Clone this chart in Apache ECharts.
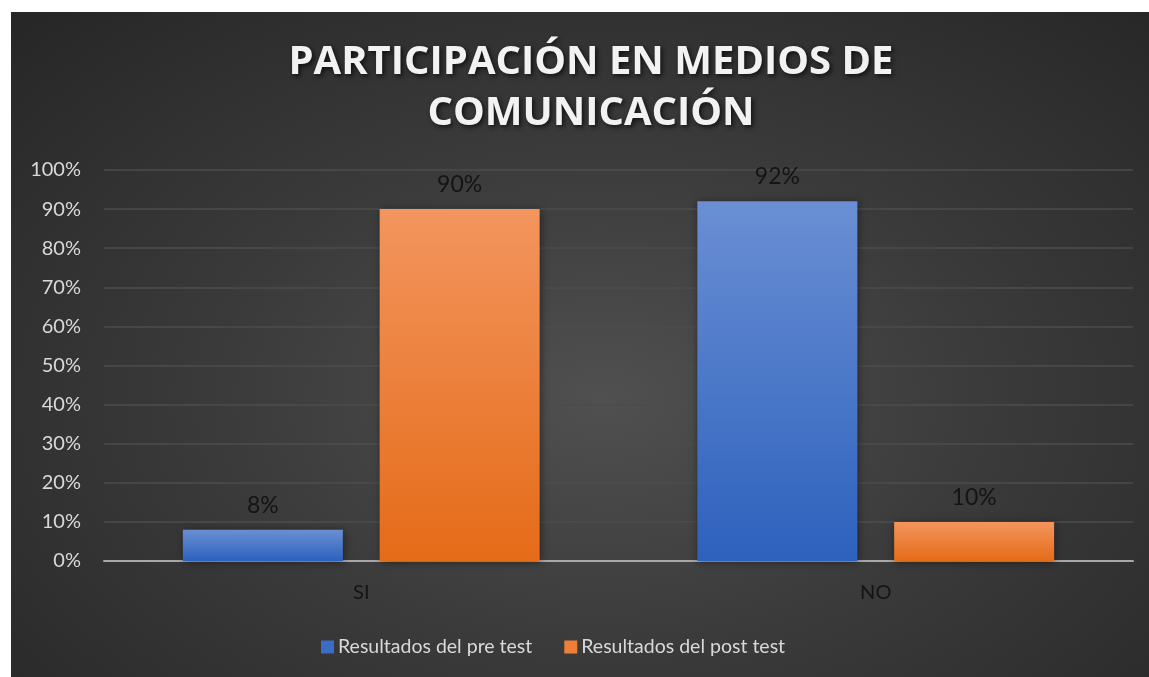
<!DOCTYPE html>
<html>
<head>
<meta charset="utf-8">
<script src="https://cdn.jsdelivr.net/npm/echarts@6/dist/echarts.min.js"></script>
<style>
html,body{margin:0;padding:0;background:#fff;width:1149px;height:677px;overflow:hidden;}
#main{position:absolute;left:11px;top:12px;width:1138px;height:665px;
background:radial-gradient(ellipse at 52% 58%, #505050 0%, #3b3b3b 45%, #262626 100%);}
</style>
</head>
<body>
<div id="main"></div>
<script>
var categorias = ['SI', 'NO'];
var preTest = [0.08, 0.92];
var postTest = [0.90, 0.10];
var nombres = ['Resultados del pre test', 'Resultados del post test'];
var titulo = 'PARTICIPACIÓN EN MEDIOS DE\nCOMUNICACIÓN';

var fuente = 'Lato, "Open Sans", sans-serif';

function degradado(arriba, abajo){
	return new echarts.graphic.LinearGradient(0, 0, 0, 1, [
		{offset: 0, color: arriba},
		{offset: 1, color: abajo}
	]);
}

var etiqueta = {
	show: true,
	position: 'top',
	distance: 13,
	color: '#141414',
	fontSize: 23,
	fontFamily: fuente,
	formatter: function(p){ return Math.round(p.value * 100) + '%'; }
};

var myChart = echarts.init(document.getElementById('main'));

option = {
	title: {
		text: titulo,
		left: 575,
		textAlign: 'center',
		top: 20,
		textStyle: {
			color: '#f2f2f2',
			fontSize: 40,
			fontWeight: 'bold',
			fontFamily: '"Open Sans", sans-serif',
			lineHeight: 51,
			textShadowColor: 'rgba(0,0,0,0.7)',
			textShadowBlur: 5,
			textShadowOffsetX: 2,
			textShadowOffsetY: 2
		}
	},
	legend: {
		bottom: 15,
		left: 305,
		itemWidth: 13,
		itemHeight: 13,
		itemGap: 32,
		icon: 'rect',
		textStyle: {color: '#d9d9d9', fontSize: 19.5, fontFamily: fuente, padding: [0, 0, 0, -1]},
		data: nombres
	},
	grid: {
		left: 93,
		right: 16,
		top: 158,
		bottom: 116,
		containLabel: false
	},
	xAxis: {
		type: 'category',
		data: categorias,
		axisTick: {show: false},
		axisLine: {lineStyle: {color: '#a8a8a8', width: 2}},
		axisLabel: {color: '#141414', fontSize: 20, fontFamily: fuente, margin: 22}
	},
	yAxis: {
		type: 'value',
		min: 0,
		max: 1,
		interval: 0.1,
		axisLine: {show: false},
		axisTick: {show: false},
		splitLine: {lineStyle: {color: '#4d4d4d', width: 1.5}},
		axisLabel: {
			color: '#d9d9d9',
			fontSize: 20,
			fontFamily: fuente,
			margin: 23,
			formatter: function(v){ return Math.round(v * 100) + '%'; }
		}
	},
	series: [
		{
			name: nombres[0],
			type: 'bar',
			data: preTest,
			barWidth: 160,
			barGap: '23%',
			itemStyle: {
				color: degradado('#6a8fd4', '#2d61bd'),
				shadowColor: 'rgba(0,0,0,0.45)',
				shadowBlur: 8,
				shadowOffsetX: 1,
				shadowOffsetY: 1
			},
			label: etiqueta
		},
		{
			name: nombres[1],
			type: 'bar',
			data: postTest,
			barWidth: 160,
			barGap: '23%',
			itemStyle: {
				color: degradado('#f3955e', '#e56b18'),
				shadowColor: 'rgba(0,0,0,0.45)',
				shadowBlur: 8,
				shadowOffsetX: 1,
				shadowOffsetY: 1
			},
			label: etiqueta
		}
	]
};

// legend icons use flat colours
option.legend.data = [
	{name: nombres[0], itemStyle: {color: '#3d6cc6'}},
	{name: nombres[1], itemStyle: {color: '#ef7f36'}}
];

myChart.setOption(option);
</script>
</body>
</html>
